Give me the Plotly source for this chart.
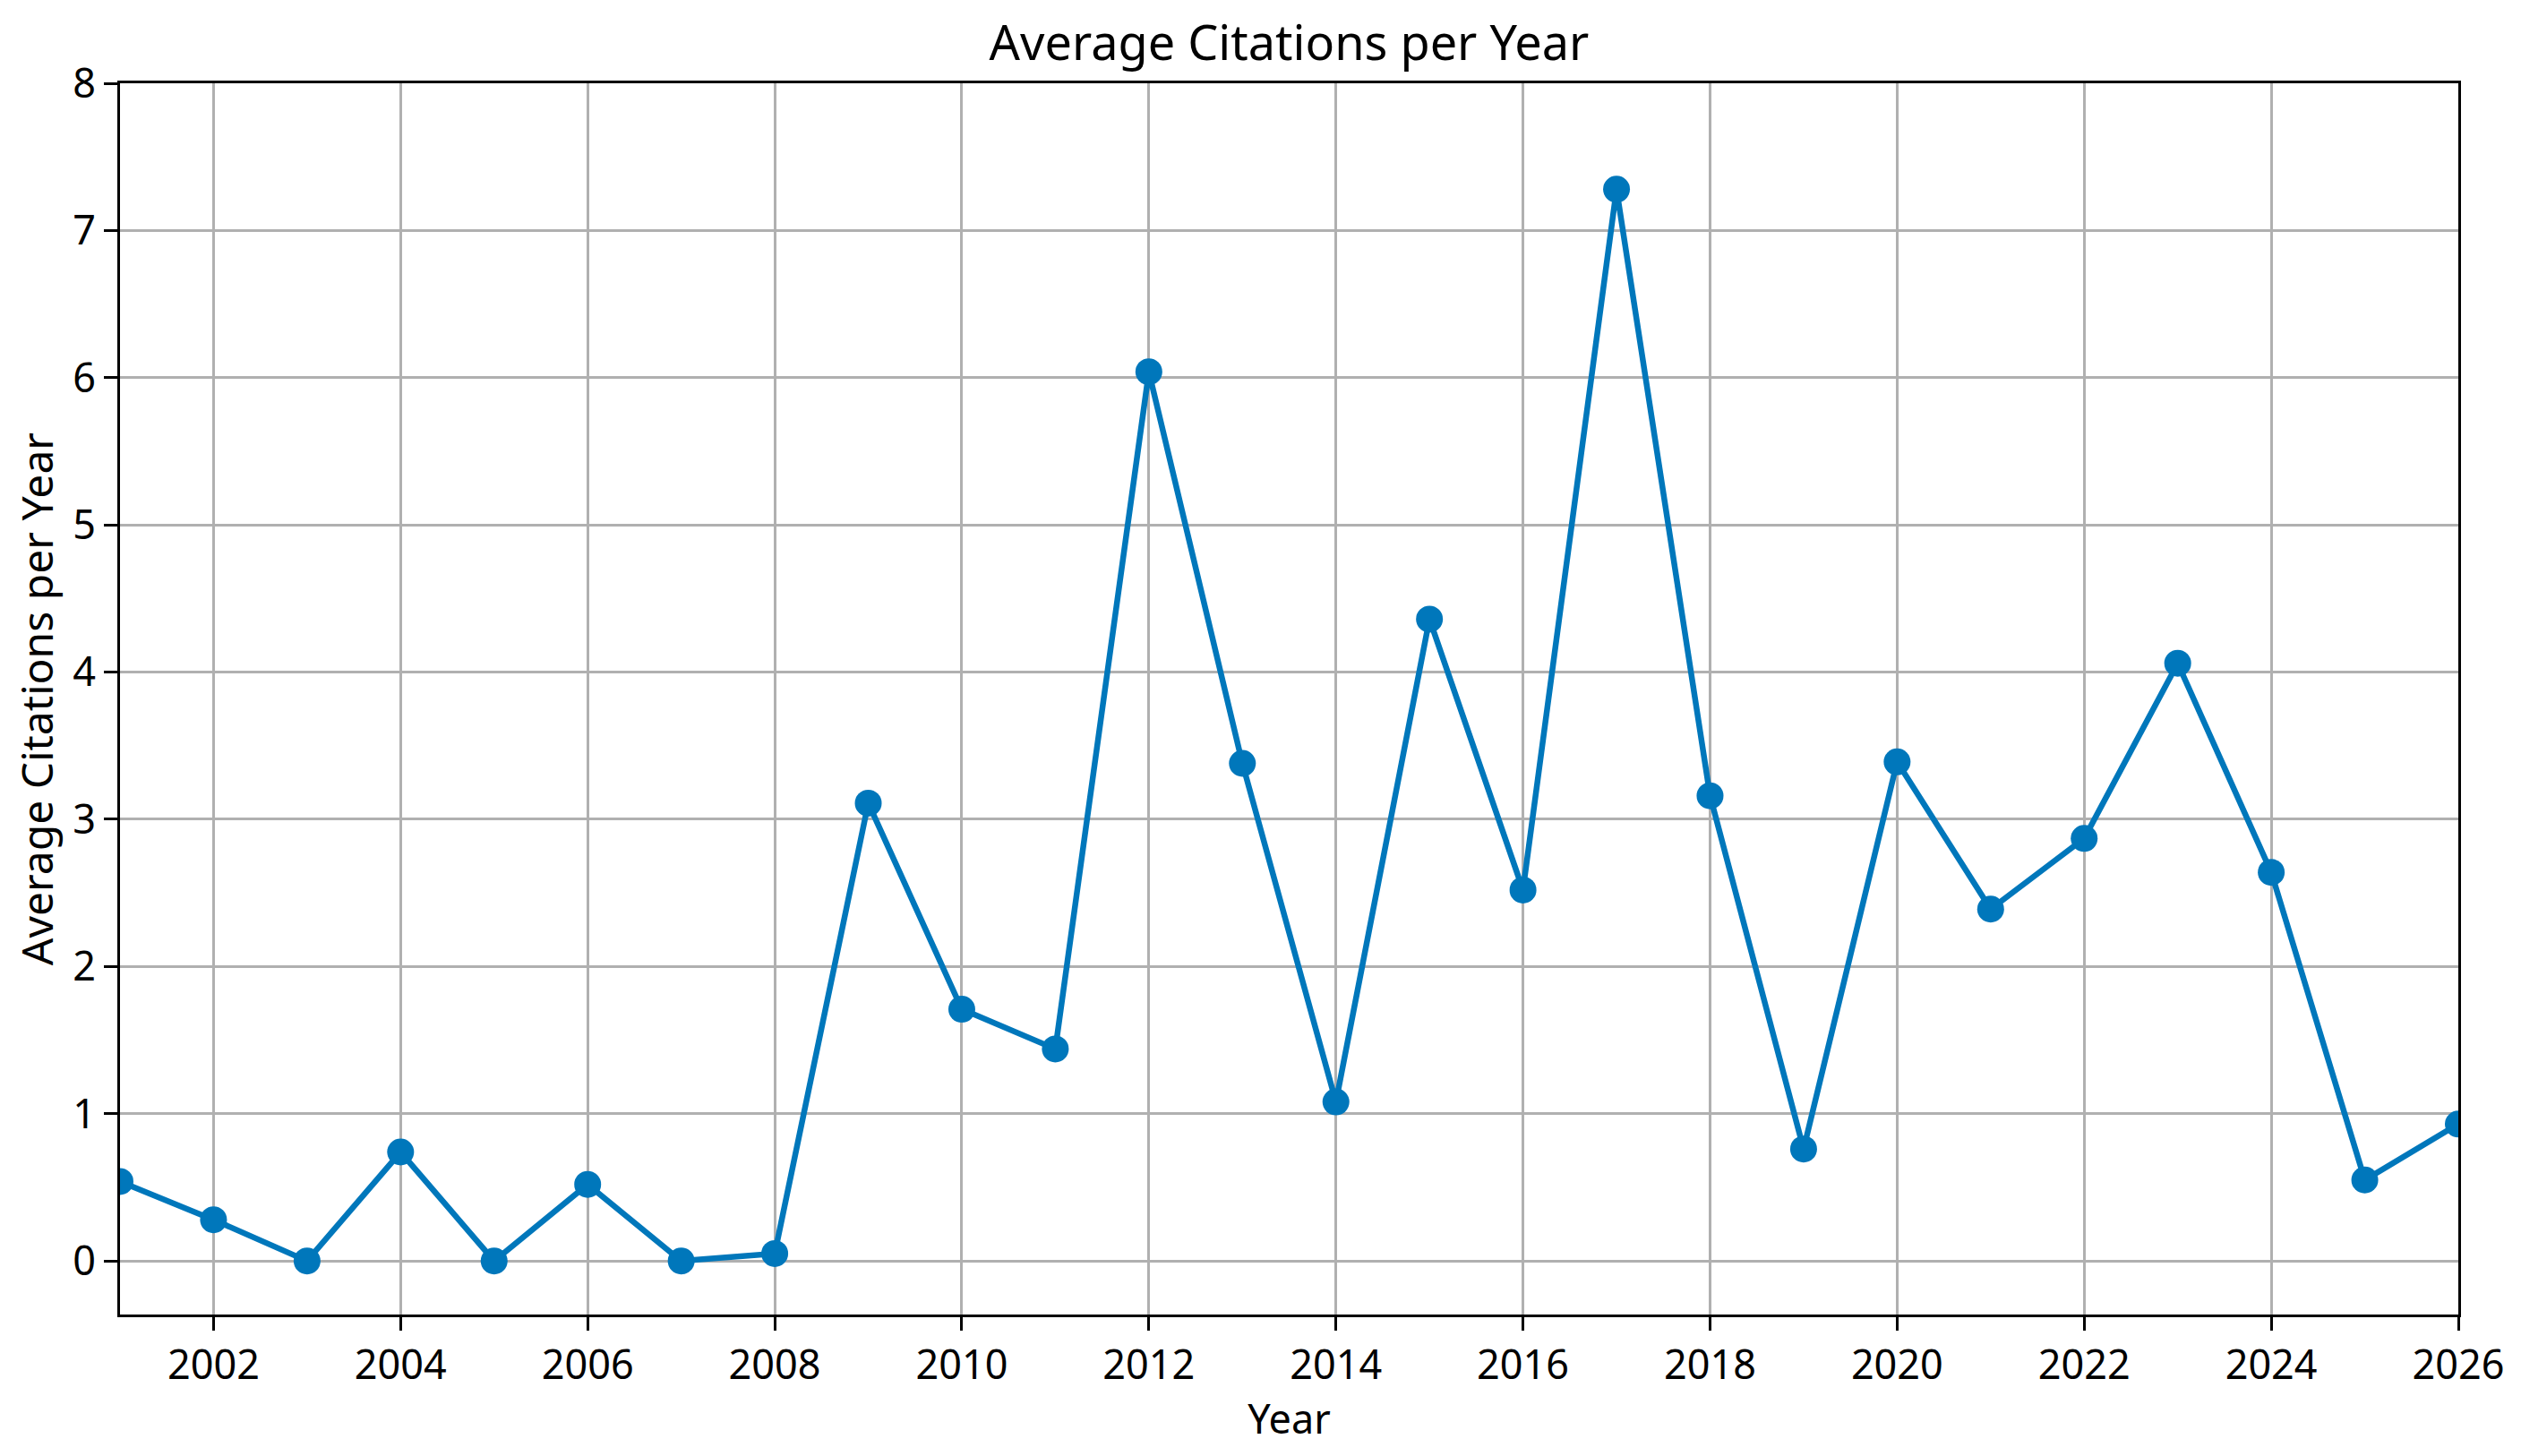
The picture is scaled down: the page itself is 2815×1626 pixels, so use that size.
import plotly.graph_objects as go

years = list(range(2001, 2027))
avg_citations = [
    0.54, 0.28, 0.0, 0.74, 0.0, 0.52, 0.0, 0.05, 3.11, 1.71,
    1.44, 6.04, 3.38, 1.08, 4.36, 2.52, 7.28, 3.16, 0.76, 3.39,
    2.39, 2.87, 4.06, 2.64, 0.55, 0.93,
]

FONT = "Noto Sans"
LINE_COLOR = "#0077BB"

trace = go.Scatter(
    x=years,
    y=avg_citations,
    mode="lines+markers",
    line=dict(color=LINE_COLOR, width=6.5),
    marker=dict(color=LINE_COLOR, size=30),
    showlegend=False,
)

axis_common = dict(
    showgrid=True,
    gridcolor="#b0b0b0",
    gridwidth=3,
    ticks="outside",
    ticklen=15,
    tickwidth=3,
    tickcolor="black",
    showline=True,
    linecolor="black",
    linewidth=3,
    mirror=True,
    zeroline=False,
    color="black",
    tickfont=dict(family=FONT, size=45, color="black"),
)

# page body adds ~8px offset, margins compensate for it
layout = go.Layout(
    width=2815,
    height=1626,
    plot_bgcolor="white",
    paper_bgcolor="white",
    margin=dict(l=126, r=78, t=85, b=166),
    font=dict(family=FONT, color="black"),
    title=dict(
        text="Average Citations per Year",
        font=dict(family=FONT, size=54, color="black"),
        x=0.5,
        xref="paper",
        xanchor="center",
        y=1 - 40 / 1626,
        yref="container",
        yanchor="middle",
    ),
    xaxis=dict(
        axis_common,
        range=[2001, 2026],
        tick0=2002,
        dtick=2,
        title=dict(text="Year", font=dict(family=FONT, size=45), standoff=18),
    ),
    yaxis=dict(
        axis_common,
        range=[-0.364, 8],
        tick0=0,
        dtick=1,
        title=dict(
            text="Average Citations per Year",
            font=dict(family=FONT, size=48),
            standoff=18,
        ),
    ),
)

fig = go.Figure(data=[trace], layout=layout)
fig.write_html("out.html")
